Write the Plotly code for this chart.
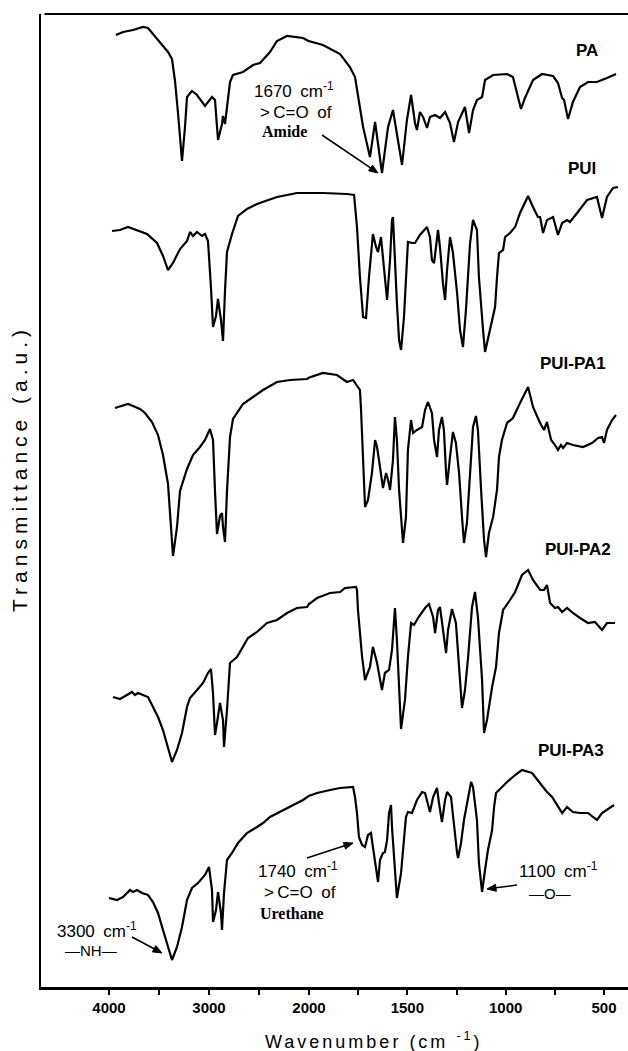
import math
import plotly.graph_objects as go

# ---------------- data ----------------
# wavenumber in cm-1, transmittance in arbitrary units (spectra already offset)
pa_wn = [3930, 3860, 3760, 3660, 3610, 3560, 3490, 3410, 3370, 3340, 3310, 3270, 3240, 3220, 3170, 3120, 3040, 2970, 2940, 2910,
         2870, 2860, 2840, 2820, 2790, 2760, 2660, 2560, 2490, 2390, 2320, 2220, 2060,
         1929, 1842, 1802, 1792, 1766, 1751, 1725, 1690, 1664, 1629, 1598, 1573, 1553, 1527, 1502, 1481, 1461, 1451, 1436, 1420,
         1400, 1385, 1359, 1334, 1308, 1283, 1263, 1242, 1207, 1186, 1166, 1146, 1120, 1105, 1064, 993, 963, 937, 922, 902,
         861, 815, 759, 734, 713, 703, 683, 658, 622, 581, 536, 485, 439]
pa_t = [95.2, 95.5, 95.7, 96.0, 95.9, 95.3, 94.4, 93.5, 92.8, 90.6, 87.4, 82.6, 86.0, 89.0, 89.6, 89.2, 88.1, 89.0, 88.7, 84.7,
        86.3, 87.1, 86.3, 88.0, 90.5, 91.2, 91.5, 92.2, 92.4, 93.5, 94.6, 95.1, 94.9,
        94.2, 93.3, 92.2, 92.0, 91.0, 89.0, 86.0, 83.0, 86.5, 81.4, 86.0, 87.7, 85.4, 82.2, 86.7, 89.2, 86.4, 85.7, 87.5, 87.0,
        85.9, 87.0, 87.2, 86.9, 87.5, 86.4, 84.5, 86.5, 88.0, 85.4, 87.7, 88.7, 89.0, 90.7, 91.2, 91.3, 91.0, 89.0, 87.8, 88.9,
        90.7, 91.3, 91.1, 90.4, 88.9, 88.7, 86.8, 88.5, 90.0, 90.5, 90.5, 90.9, 91.3]

pui_wn = [3970, 3890, 3810, 3720, 3620, 3520, 3460, 3410, 3360, 3290, 3220, 3190, 3160, 3120, 3070, 3040, 3010, 2980, 2960, 2930,
          2910, 2880, 2860, 2840, 2820, 2770, 2710, 2620, 2520, 2320, 2120,
          1929, 1807, 1771, 1756, 1741, 1725, 1710, 1695, 1680, 1675, 1659, 1649, 1634, 1624, 1608, 1603, 1588, 1578, 1573, 1568,
          1553, 1542, 1532, 1517, 1502, 1497, 1476, 1461, 1436, 1400, 1385, 1375, 1364, 1349, 1344, 1334, 1319, 1308, 1298, 1283,
          1268, 1247, 1232, 1217, 1202, 1181, 1166, 1146, 1136, 1115, 1105, 1080, 1054, 1044, 1034, 1013, 1003, 978, 952, 927,
          886, 861, 836, 825, 810, 790, 759, 734, 713, 688, 673, 637, 586, 536, 510, 485, 454, 429]
pui_t = [75.6, 75.7, 76.0, 75.7, 75.3, 74.4, 73.1, 71.7, 72.4, 73.8, 74.6, 75.5, 75.1, 75.5, 75.1, 75.3, 74.6, 69.9, 66.0, 67.1,
         68.8, 66.7, 64.6, 69.6, 73.5, 75.3, 77.1, 77.8, 78.3, 79.0, 79.4,
         79.4, 79.3, 79.2, 76.0, 71.0, 67.0, 66.9, 71.0, 74.7, 75.3, 74.0, 73.5, 75.0, 73.0, 69.4, 68.7, 72.7, 76.7, 77.0, 74.4,
         68.4, 64.7, 63.7, 67.0, 72.0, 74.5, 74.4, 74.4, 75.2, 76.0, 75.0, 72.7, 72.4, 75.4, 75.7, 74.0, 70.4, 68.7, 71.7, 75.0,
         73.4, 69.4, 65.7, 64.0, 67.7, 74.4, 76.7, 75.7, 71.0, 65.7, 63.5, 65.7, 68.0, 71.0, 73.4, 73.7, 75.0, 75.4, 76.0, 77.4,
         79.1, 78.0, 77.0, 77.0, 75.4, 76.7, 77.0, 75.2, 76.4, 76.7, 76.5, 77.4, 78.7, 79.0, 76.9, 79.0, 79.9, 80.0]

pa1_wn = [3940, 3870, 3810, 3760, 3690, 3640, 3570, 3510, 3460, 3410, 3380, 3360, 3320, 3290, 3220, 3160, 3090, 3040, 2990, 2960,
          2940, 2920, 2890, 2870, 2860, 2840, 2820, 2790, 2760, 2710, 2660, 2560, 2460, 2320, 2190, 2020,
          1929, 1858, 1807, 1776, 1741, 1736, 1725, 1715, 1700, 1680, 1664, 1654, 1639, 1624, 1608, 1598, 1588, 1573, 1563, 1553,
          1542, 1522, 1507, 1497, 1481, 1471, 1451, 1425, 1410, 1395, 1375, 1364, 1349, 1339, 1324, 1314, 1303, 1298, 1283, 1268,
          1253, 1237, 1222, 1212, 1197, 1176, 1166, 1151, 1141, 1125, 1110, 1100, 1085, 1064, 1044, 1034, 1019, 993, 963, 927,
          886, 861, 825, 805, 790, 769, 749, 734, 719, 708, 688, 658, 607, 561, 530, 510, 500, 485, 459, 439]
pa1_t = [57.9, 58.1, 58.3, 58.1, 57.8, 57.4, 56.5, 55.2, 53.2, 50.3, 46.0, 43.1, 46.0, 49.6, 51.8, 53.2, 54.0, 54.7, 55.8, 54.7,
         49.6, 45.3, 47.1, 47.4, 46.0, 44.5, 49.6, 55.0, 56.8, 57.6, 58.3, 59.0, 59.7, 60.5, 60.7, 60.8,
         61.4, 61.2, 60.5, 60.7, 59.7, 58.0, 53.0, 48.0, 48.7, 51.4, 54.7, 54.0, 52.0, 49.9, 51.4, 50.7, 49.7, 52.7, 57.0, 54.7,
         49.7, 44.4, 47.0, 53.7, 56.7, 55.4, 55.7, 56.0, 57.7, 58.5, 57.4, 54.7, 53.0, 55.7, 57.0, 55.7, 51.4, 50.2, 53.0, 55.5,
         54.4, 51.4, 47.0, 44.4, 46.4, 53.0, 56.0, 57.1, 55.7, 49.7, 44.7, 43.0, 45.4, 47.0, 49.7, 53.0, 54.7, 56.4, 56.9, 58.4,
         60.0, 58.0, 56.4, 55.7, 56.5, 54.7, 54.2, 53.7, 54.2, 53.9, 54.4, 54.2, 54.0, 54.4, 54.9, 55.0, 54.4, 55.7, 56.7, 57.2]

pa2_wn = [3960, 3890, 3820, 3770, 3740, 3710, 3660, 3610, 3560, 3510, 3460, 3410, 3370, 3320, 3270, 3220, 3190, 3120, 3060, 3010,
          2980, 2960, 2940, 2920, 2890, 2860, 2850, 2820, 2790, 2720, 2660, 2610, 2520, 2420, 2320, 2220, 2120, 2020,
          1959, 1893, 1842, 1817, 1761, 1756, 1751, 1730, 1715, 1690, 1675, 1654, 1629, 1614, 1593, 1578, 1563, 1553, 1542, 1532,
          1512, 1497, 1481, 1466, 1446, 1410, 1390, 1369, 1359, 1344, 1334, 1319, 1303, 1293, 1273, 1253, 1237, 1222, 1207, 1191,
          1171, 1156, 1141, 1120, 1110, 1095, 1069, 1049, 1034, 1013, 978, 952, 917, 886, 861, 825, 805, 790, 774, 749,
          734, 713, 688, 658, 622, 581, 546, 510, 485, 444]
pa2_t = [29.0, 28.8, 29.2, 29.5, 29.2, 29.4, 29.2, 29.0, 28.0, 27.0, 25.7, 24.0, 22.5, 23.7, 25.4, 28.0, 28.9, 29.7, 30.4, 31.4,
         31.8, 29.4, 25.2, 26.4, 28.4, 26.7, 24.0, 27.7, 32.4, 33.0, 34.0, 34.9, 35.5, 36.4, 36.7, 37.4, 37.9, 38.0,
         38.9, 39.4, 39.5, 39.9, 40.0, 39.7, 37.7, 33.0, 30.7, 32.0, 34.0, 32.4, 29.7, 31.4, 31.7, 33.7, 37.9, 34.7, 29.7, 25.8,
         28.7, 33.0, 36.4, 36.2, 36.9, 37.9, 38.3, 37.0, 35.4, 37.7, 38.0, 35.7, 33.4, 35.7, 37.8, 36.4, 32.4, 27.9, 29.7, 33.0,
         38.0, 39.5, 37.0, 30.7, 25.4, 26.7, 30.0, 32.0, 35.4, 37.7, 38.7, 39.5, 41.2, 41.7, 40.7, 39.7, 39.7, 40.2, 38.4, 37.9,
         38.0, 37.5, 37.9, 37.4, 36.9, 36.4, 36.5, 35.7, 36.4, 36.4]

pa3_wn = [4000, 3920, 3860, 3790, 3760, 3720, 3670, 3610, 3560, 3510, 3460, 3410, 3370, 3320, 3270, 3220, 3170, 3110, 3040, 3000,
          2970, 2960, 2930, 2910, 2880, 2870, 2850, 2820, 2770, 2710, 2620, 2520, 2460, 2390, 2290, 2190, 2060,
          1959, 1893, 1842, 1776, 1766, 1756, 1746, 1730, 1715, 1700, 1685, 1675, 1659, 1649, 1639, 1624, 1614, 1603, 1593, 1583,
          1578, 1563, 1553, 1532, 1522, 1507, 1497, 1476, 1451, 1425, 1410, 1400, 1385, 1369, 1349, 1339, 1324, 1308, 1298, 1278,
          1263, 1247, 1242, 1227, 1212, 1191, 1176, 1166, 1146, 1136, 1120, 1105, 1090, 1069, 1059, 1049, 1019, 993, 952, 917,
          866, 825, 790, 764, 739, 724, 713, 688, 658, 622, 581, 556, 536, 510, 485, 449]
pa3_t = [8.9, 8.7, 9.0, 9.7, 9.5, 9.7, 9.4, 9.2, 8.5, 7.4, 5.7, 4.0, 2.7, 4.0, 6.0, 8.7, 9.9, 10.4, 11.2, 12.0,
         9.7, 6.5, 7.7, 9.5, 7.4, 5.7, 9.4, 12.7, 13.4, 14.4, 15.4, 16.0, 16.4, 17.0, 17.5, 18.0, 18.7,
         19.4, 19.7, 19.9, 20.0, 19.0, 17.4, 15.0, 14.2, 14.0, 15.2, 15.4, 14.0, 11.7, 10.5, 12.7, 13.4, 13.5, 14.7, 17.4, 18.2,
         16.0, 12.0, 8.9, 11.4, 14.0, 17.0, 17.5, 17.4, 18.7, 19.5, 19.4, 18.7, 17.5, 19.0, 19.9, 18.4, 16.5, 18.7, 19.5, 19.0,
         16.0, 13.4, 12.9, 14.4, 16.7, 19.0, 20.5, 20.0, 16.7, 12.4, 9.5, 11.7, 13.7, 15.7, 18.0, 19.4, 20.0, 20.5, 21.2, 21.7,
         21.4, 20.4, 19.5, 19.0, 18.2, 17.7, 17.4, 18.0, 17.5, 17.4, 17.4, 17.0, 16.7, 17.4, 17.7, 18.2]

series_names = ["PA", "PUI", "PUI-PA1", "PUI-PA2", "PUI-PA3"]
series = [(pa_wn, pa_t), (pui_wn, pui_t), (pa1_wn, pa1_t), (pa2_wn, pa2_t), (pa3_wn, pa3_t)]

hi_ticks = [4000, 3000]
hi_labels = ["4000", "3000"]
hi_minor = [3500, 2500]
lo_ticks = [2000, 1500, 1000, 500]
lo_labels = ["2000", "1500", "1000", "500"]
lo_minor = [1750, 1250, 750]

# ---------------- layout geometry ----------------
W, H = 628, 1051
ML, MR, MT, MB = 41, 0, 14, 64
PW, PH = W - ML - MR, H - MT - MB
BREAK = 2000
X_BREAK_PX = 309              # pixel where the scale changes (2000 cm-1)
HI_RANGE = [4680, BREAK]      # 0.1 px per cm-1
LO_RANGE = [BREAK, 378]       # ~0.197 px per cm-1
Y_RANGE = [0, 97.3]
dom_split = (X_BREAK_PX - ML) / PW

FONT = "Liberation Sans, Arial, sans-serif"
SERIF = "Liberation Serif, Times New Roman, serif"


def paper(px, py):
    return (px - ML) / PW, (H - MB - py) / PH


fig = go.Figure()
line = dict(color="black", width=2.2)
for name, (wn, t) in zip(series_names, series):
    k = sum(1 for w in wn if w >= BREAK)
    # high-wavenumber part (one point past the break; clipped at the panel edge)
    fig.add_trace(go.Scatter(x=wn[:k + 1], y=t[:k + 1], mode="lines", line=line,
                             name=name, xaxis="x", yaxis="y", showlegend=False, hoverinfo="skip"))
    fig.add_trace(go.Scatter(x=wn[k - 1:], y=t[k - 1:], mode="lines", line=line,
                             name=name, xaxis="x2", yaxis="y", showlegend=False, hoverinfo="skip"))

tick_style = dict(ticks="outside", ticklen=5, tickwidth=2, tickcolor="black")
axis_common = dict(showline=True, linecolor="black", linewidth=2.5, showgrid=False, zeroline=False,
                   tickfont=dict(family=FONT, size=15, color="black", weight="bold"), tickmode="array",
                   **tick_style)

fig.update_layout(
    width=W, height=H, margin=dict(l=ML, r=MR, t=MT, b=MB),
    paper_bgcolor="white", plot_bgcolor="white", showlegend=False,
    xaxis=dict(domain=[0, dom_split], range=HI_RANGE, tickvals=hi_ticks, ticktext=hi_labels,
               minor=dict(tickmode="array", tickvals=hi_minor, showgrid=False, **tick_style),
               anchor="y", **axis_common),
    xaxis2=dict(domain=[dom_split, 1], range=LO_RANGE, tickvals=lo_ticks, ticktext=lo_labels,
                minor=dict(tickmode="array", tickvals=lo_minor, showgrid=False, **tick_style),
                anchor="y", **axis_common),
    yaxis=dict(range=Y_RANGE, showline=True, linecolor="black", linewidth=2, showticklabels=False,
               ticks="", showgrid=False, zeroline=False),
)

shapes = []
# top frame line
shapes.append(dict(type="line", xref="paper", yref="paper", x0=0.006, x1=1, y0=1, y1=1,
                   line=dict(color="black", width=2)))


def arrow(tail, head, head_len=9, head_half=3.5):
    """Arrow from tail to head (pixel positions on the page) drawn as shapes."""
    (tx, ty), (hx, hy) = tail, head
    L = math.hypot(hx - tx, hy - ty)
    ux, uy = (hx - tx) / L, (hy - ty) / L
    bx, by = hx - ux * head_len, hy - uy * head_len
    nx, ny = -uy, ux
    x0, y0 = paper(tx, ty)
    x1, y1 = paper(bx, by)
    shapes.append(dict(type="line", xref="paper", yref="paper", x0=x0, y0=y0, x1=x1, y1=y1,
                       line=dict(color="black", width=1.6)))
    pts = [paper(hx, hy), paper(bx + nx * head_half, by + ny * head_half),
           paper(bx - nx * head_half, by - ny * head_half)]
    path = "M {} {} L {} {} L {} {} Z".format(*[v for p in pts for v in p])
    shapes.append(dict(type="path", xref="paper", yref="paper", path=path,
                       fillcolor="black", line=dict(color="black", width=1)))


arrow((322, 135), (378, 173))   # 1670 cm-1 amide C=O
arrow((307, 858), (353, 843))   # 1740 cm-1 urethane C=O
arrow((132, 937), (162, 953))   # 3300 cm-1 N-H
arrow((517, 885), (487, 889))   # 1100 cm-1 ether

ann = []


def text(px, py, s, size=16, family=FONT, angle=0, weight="normal"):
    x, y = paper(px, py)
    ann.append(dict(x=x, y=y, xref="paper", yref="paper", text=s, showarrow=False,
                    xanchor="center", yanchor="middle", textangle=angle,
                    font=dict(family=family, size=size, color="black", weight=weight)))


# curve labels
text(587, 50, "PA", size=17, weight="bold")
text(582, 168, "PUI", size=17, weight="bold")
text(573, 363, "PUI-PA1", size=17, weight="bold")
text(578, 550, "PUI-PA2", size=17, weight="bold")
text(571, 750, "PUI-PA3", size=17, weight="bold")

# band annotations
text(294, 90, "1670\u2002cm<sup>-1</sup>", size=17)
text(296, 112, "&gt;\u2009C=O\u2002of", size=17)
text(284, 132, "Amide", size=16, family=SERIF, weight="bold")
text(298, 870, "1740\u2002cm<sup>-1</sup>", size=17)
text(300, 892, "&gt;\u2009C=O\u2002of", size=17)
text(292, 913, "Urethane", size=16, family=SERIF, weight="bold")
text(97, 930, "3300\u2002cm<sup>-1</sup>", size=17)
text(91, 950, "\u2014NH\u2014", size=15)
text(558, 870, "1100\u2002cm<sup>-1</sup>", size=17)
text(550, 893, "\u2014O\u2014", size=15)

# axis titles
text(19, 469, '<span style="letter-spacing:5px;font-size:21px">Transmittance (a.u.)</span>', size=21, angle=-90)
text(374, 1040, '<span style="letter-spacing:3px;font-size:18px">Wavenumber (cm <sup>-1</sup>)</span>', size=18)

fig.update_layout(annotations=ann, shapes=shapes)
fig.write_html("out.html")
